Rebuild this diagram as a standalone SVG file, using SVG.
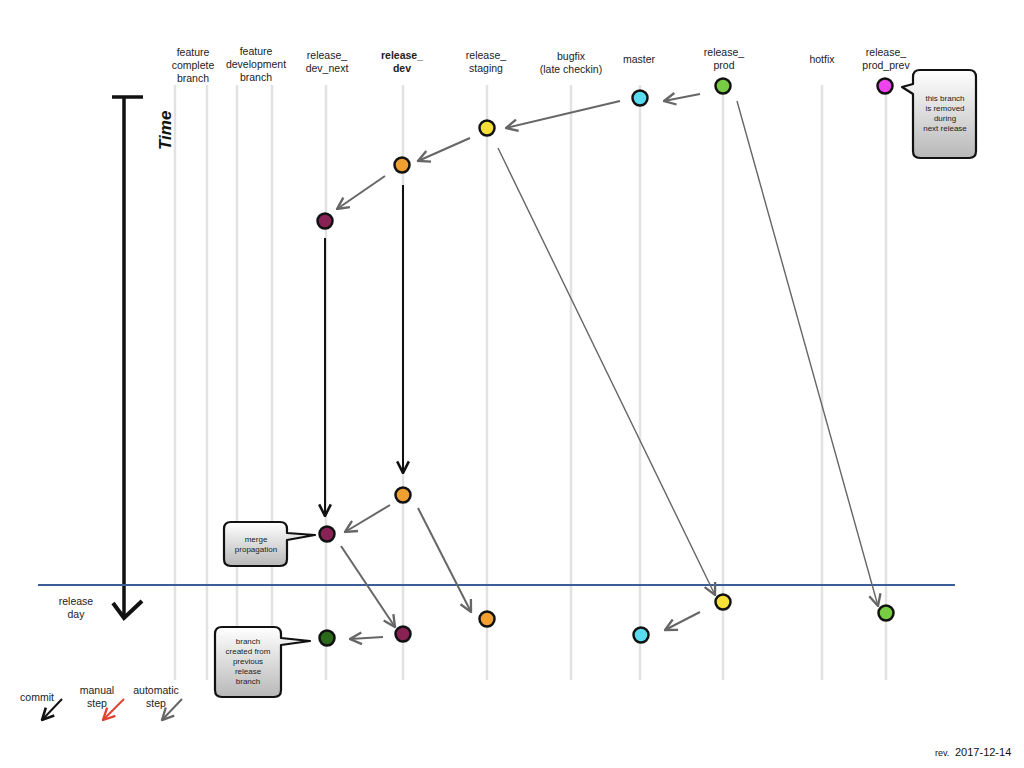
<svg xmlns="http://www.w3.org/2000/svg" width="1024" height="768" viewBox="0 0 1024 768">
<defs>
<style>
.lane{stroke:#e2e2e2;stroke-width:2.5;fill:none}
.lbl{font-family:"Liberation Sans",Arial,sans-serif;font-size:10.5px;fill:#222;text-anchor:middle}
.b{font-weight:bold}
.node{stroke:#111;stroke-width:2.5}
.auto{stroke:#666;stroke-width:2;fill:none}
.thin{stroke:#666;stroke-width:1.4;fill:none}
.commit{stroke:#111;stroke-width:2;fill:none}
.co{fill:url(#g);stroke:#111;stroke-width:2.2;stroke-linejoin:round}
.ct{font-family:"Liberation Sans",Arial,sans-serif;font-size:8px;fill:#222;text-anchor:middle}
</style>
<linearGradient id="g" x1="0" y1="0" x2="0" y2="1">
<stop offset="0" stop-color="#ffffff"/>
<stop offset="1" stop-color="#b8b8b8"/>
</linearGradient>
<marker id="ag" viewBox="0 0 12 12" refX="11" refY="6" markerWidth="14" markerHeight="14" markerUnits="userSpaceOnUse" orient="auto">
<path d="M1,1 L11,6 L1,11" fill="none" stroke="#666" stroke-width="2"/>
</marker>
<marker id="ab" viewBox="0 0 12 12" refX="11" refY="6" markerWidth="14" markerHeight="14" markerUnits="userSpaceOnUse" orient="auto">
<path d="M1,1 L11,6 L1,11" fill="none" stroke="#111" stroke-width="2.2"/>
</marker>
<marker id="ar" viewBox="0 0 12 12" refX="11" refY="6" markerWidth="14" markerHeight="14" markerUnits="userSpaceOnUse" orient="auto">
<path d="M1,1 L11,6 L1,11" fill="none" stroke="#e04030" stroke-width="2"/>
</marker>
</defs>
<rect width="1024" height="768" fill="#fff"/>

<g id="lanes">
<line class="lane" x1="175" y1="85" x2="175" y2="680"/>
<line class="lane" x1="207" y1="85" x2="207" y2="680"/>
<line class="lane" x1="237" y1="85" x2="237" y2="680"/>
<line class="lane" x1="272" y1="85" x2="272" y2="680"/>
<line class="lane" x1="326" y1="85" x2="326" y2="680"/>
<line class="lane" x1="403" y1="85" x2="403" y2="680"/>
<line class="lane" x1="487" y1="85" x2="487" y2="680"/>
<line class="lane" x1="571" y1="85" x2="571" y2="680"/>
<line class="lane" x1="640" y1="85" x2="640" y2="680"/>
<line class="lane" x1="723" y1="85" x2="723" y2="680"/>
<line class="lane" x1="822" y1="85" x2="822" y2="680"/>
<line class="lane" x1="886" y1="85" x2="886" y2="680"/>
</g>

<g id="labels">
<text class="lbl" x="193" y="56">feature</text>
<text class="lbl" x="193" y="69">complete</text>
<text class="lbl" x="193" y="82">branch</text>
<text class="lbl" x="256" y="55">feature</text>
<text class="lbl" x="256" y="68">development</text>
<text class="lbl" x="256" y="81">branch</text>
<text class="lbl" x="327" y="59">release_</text>
<text class="lbl" x="327" y="72">dev_next</text>
<text class="lbl b" x="402" y="59">release_</text>
<text class="lbl b" x="402" y="72">dev</text>
<text class="lbl" x="486" y="59">release_</text>
<text class="lbl" x="486" y="72">staging</text>
<text class="lbl" x="571" y="60">bugfix</text>
<text class="lbl" x="571" y="73">(late checkin)</text>
<text class="lbl" x="639" y="63">master</text>
<text class="lbl" x="724" y="56">release_</text>
<text class="lbl" x="724" y="69">prod</text>
<text class="lbl" x="822" y="63">hotfix</text>
<text class="lbl" x="886" y="56">release_</text>
<text class="lbl" x="886" y="69">prod_prev</text>
</g>

<g id="time">
<line x1="112" y1="97" x2="143" y2="97" stroke="#111" stroke-width="3.5"/>
<line x1="124" y1="97" x2="124" y2="617" stroke="#111" stroke-width="3.5"/>
<path d="M113,603 L124,618 L142,601" fill="none" stroke="#111" stroke-width="4" stroke-linejoin="miter"/>
<text x="0" y="0" transform="translate(171,150) rotate(-90)" font-family="Liberation Sans,Arial,sans-serif" font-size="17" font-weight="bold" font-style="italic" fill="#111">Time</text>
</g>

<g id="releaseline">
<line x1="38" y1="585" x2="955" y2="585" stroke="#3a5f98" stroke-width="2"/>
<text class="lbl" x="76" y="605">release</text>
<text class="lbl" x="76" y="618">day</text>
</g>

<g id="connectors">
<line class="auto" x1="700" y1="94" x2="664" y2="101" marker-end="url(#ag)"/>
<line class="auto" x1="620" y1="101" x2="506" y2="128" marker-end="url(#ag)"/>
<line class="auto" x1="470" y1="138" x2="418" y2="161" marker-end="url(#ag)"/>
<line class="auto" x1="385" y1="176" x2="337" y2="209" marker-end="url(#ag)"/>
<line class="thin" x1="498" y1="148" x2="715" y2="595" marker-end="url(#ag)"/>
<line class="thin" x1="737" y1="101" x2="878" y2="606" marker-end="url(#ag)"/>
<line class="commit" x1="403" y1="185" x2="403" y2="473" marker-end="url(#ab)"/>
<line class="commit" x1="325" y1="238" x2="325" y2="516" marker-end="url(#ab)"/>
<line class="auto" x1="390" y1="505" x2="345" y2="532" marker-end="url(#ag)"/>
<line class="auto" x1="418" y1="508" x2="471" y2="612" marker-end="url(#ag)"/>
<line class="auto" x1="341" y1="546" x2="395" y2="627" marker-end="url(#ag)"/>
<line class="auto" x1="383" y1="637" x2="350" y2="639" marker-end="url(#ag)"/>
<line class="auto" x1="700" y1="612" x2="665" y2="630" marker-end="url(#ag)"/>
</g>

<g id="n1"><circle class="node" cx="723" cy="86" r="7.5" fill="#77cc44"/></g>
<g id="n2"><circle class="node" cx="640" cy="98" r="7.5" fill="#5adcf0"/></g>
<g id="n3"><circle class="node" cx="885" cy="86" r="7.5" fill="#ee44ee"/></g>
<g id="n4"><circle class="node" cx="487" cy="128" r="7.5" fill="#f7df3a"/></g>
<g id="n5"><circle class="node" cx="402" cy="165" r="7.5" fill="#f0a030"/></g>
<g id="n6"><circle class="node" cx="325" cy="221" r="7.5" fill="#882255"/></g>
<g id="n7"><circle class="node" cx="403" cy="495" r="7.5" fill="#f0a030"/></g>
<g id="n8"><circle class="node" cx="327" cy="534" r="7.5" fill="#882255"/></g>
<g id="n9"><circle class="node" cx="723" cy="602" r="7.5" fill="#f7df3a"/></g>
<g id="n10"><circle class="node" cx="886" cy="613" r="7.5" fill="#77cc44"/></g>
<g id="n11"><circle class="node" cx="487" cy="619" r="7.5" fill="#f0a030"/></g>
<g id="n12"><circle class="node" cx="403" cy="634" r="7.5" fill="#882255"/></g>
<g id="n13"><circle class="node" cx="327" cy="638" r="7.5" fill="#2a6a1a"/></g>
<g id="n14"><circle class="node" cx="641" cy="635" r="7.5" fill="#5adcf0"/></g>

<g id="callout1">
<path class="co" d="M920,70 H969 Q976,70 976,77 V151 Q976,158 969,158 H920 Q913,158 913,151 V94 L902,87 L913,84 V77 Q913,70 920,70 Z"/>
<text class="ct" x="945" y="101">this branch</text>
<text class="ct" x="945" y="111">is removed</text>
<text class="ct" x="945" y="121">during</text>
<text class="ct" x="945" y="131">next release</text>
</g>
<g id="callout2">
<path class="co" d="M231,522 H280 Q287,522 287,529 V533 L315,535 L287,540 V559 Q287,566 280,566 H231 Q224,566 224,559 V529 Q224,522 231,522 Z"/>
<text class="ct" x="256" y="542">merge</text>
<text class="ct" x="256" y="552">propagation</text>
</g>
<g id="callout3">
<path class="co" d="M222,627 H274 Q281,627 281,634 V638 L310,641 L281,645 V690 Q281,697 274,697 H222 Q215,697 215,690 V634 Q215,627 222,627 Z"/>
<text class="ct" x="248" y="644">branch</text>
<text class="ct" x="248" y="654">created from</text>
<text class="ct" x="248" y="664">previous</text>
<text class="ct" x="248" y="674">release</text>
<text class="ct" x="248" y="684">branch</text>
</g>

<g id="legend">
<text class="lbl" x="37" y="701">commit</text>
<line class="commit" x1="62" y1="699" x2="42" y2="720" marker-end="url(#ab)"/>
<text class="lbl" x="97" y="694">manual</text>
<text class="lbl" x="97" y="707">step</text>
<line x1="124" y1="699" x2="103" y2="720" stroke="#e04030" stroke-width="2" marker-end="url(#ar)"/>
<text class="lbl" x="156" y="694">automatic</text>
<text class="lbl" x="156" y="707">step</text>
<line class="auto" x1="182" y1="699" x2="162" y2="720" marker-end="url(#ag)"/>
</g>

<g id="rev">
<text x="935" y="756" font-family="Liberation Sans,Arial,sans-serif" font-size="9" fill="#111">rev.</text>
<text x="955" y="756" font-family="Liberation Sans,Arial,sans-serif" font-size="11" fill="#111">2017-12-14</text>
</g>
</svg>
